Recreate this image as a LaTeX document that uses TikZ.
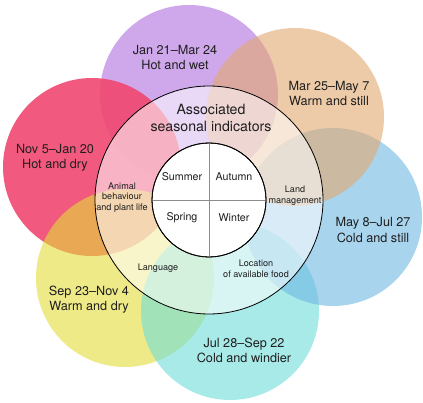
\documentclass[tikz,border=0pt]{standalone}
\usepackage{fontspec}
\setmainfont{TeX Gyre Heros}
\definecolor{sgpurple}{RGB}{175,110,223}
\definecolor{sgpink}{RGB}{240,72,112}
\definecolor{sgyellow}{RGB}{227,220,57}
\definecolor{sgcyan}{RGB}{110,220,217}
\definecolor{sgblue}{RGB}{110,183,227}
\definecolor{sgpeach}{RGB}{227,168,110}
\definecolor{sgtext}{RGB}{30,30,30}
\usetikzlibrary{positioning}

\begin{document}
\begin{tikzpicture}[x=0.75pt, y=-0.75pt,
  blob/.style={circle, minimum size=133.5pt, inner sep=0pt, fill opacity=0.6},
  datelbl/.style={align=center, text=sgtext, font=\fontsize{9.5}{11.3}\selectfont},
  seasonlbl/.style={text=sgtext, font=\fontsize{8}{9.6}\selectfont},
  cuelbl/.style={align=center, text=sgtext, font=\fontsize{6.8}{7.9}\selectfont},
  divider/.style={draw=black!45, line width=0.7pt}]
  \useasboundingbox (0,0) rectangle (423,402);

  % seasonal circles, bottom to top
  \node[blob, fill=sgpurple] (jan) at (189,94) {};
  \node[blob, fill=sgpink, fill opacity=0.9] (nov) at (92,167) {};
  \node[blob, fill=sgyellow] (sep) at (125,278) {};
  \node[blob, fill=sgcyan] (jul) at (230,311) {};
  \node[blob, fill=sgblue] (may) at (333,217) {};
  \node[blob, fill=sgpeach] (mar) at (295,117) {};

  % centre ring
  \node[circle, minimum size=171pt, inner sep=0pt, fill=white, fill opacity=0.55, draw=black, draw opacity=1, line width=0.6pt] (ring) at (209,200) {};
  \node[circle, minimum size=85.5pt, inner sep=0pt, fill=white, draw=black, line width=0.6pt] (hub) at (209,200) {};
  \draw[divider] (hub.north) -- (hub.south);
  \draw[divider] (hub.west) -- (hub.east);
  \node[circle, minimum size=85.5pt, inner sep=0pt, draw=black, line width=0.6pt] at (hub) {};

  % period labels
  \node[datelbl] (janlbl) at (175,57.5) {Jan 21–Mar 24\\Hot and wet};
  \node[datelbl] (marlbl) at (329,93.5) {Mar 25–May 7\\Warm and still};
  \node[datelbl] (novlbl) at (55,157.5) {Nov 5–Jan 20\\Hot and dry};
  \node[datelbl] (maylbl) at (373,230) {May 8–Jul 27\\Cold and still};
  \node[datelbl] (seplbl) at (89,300) {Sep 23–Nov 4\\Warm and dry};
  \node[datelbl] (jullbl) at (244,350.5) {Jul 28–Sep 22\\Cold and windier};

  \node[align=center, text=sgtext, font=\fontsize{10.6}{12.8}\selectfont] (title) at (211,117.5) {Associated\\seasonal indicators};

  % seasons
  \node[seasonlbl] (summer) at (182,177) {Summer};
  \node[seasonlbl] (autumn) at (234,177) {Autumn};
  \node[seasonlbl] (spring) at (182,218) {Spring};
  \node[seasonlbl] (winter) at (234,218) {Winter};

  % indicators
  \node[cuelbl] (animal) at (122,197.5) {Animal\\behaviour\\and plant life};
  \node[cuelbl] (land) at (295,195.5) {Land\\management};
  \node[cuelbl] (lang) at (158,268) {Language};
  \node[cuelbl] (food) at (256,268.5) {Location\\of available food};
\end{tikzpicture}
\end{document}
